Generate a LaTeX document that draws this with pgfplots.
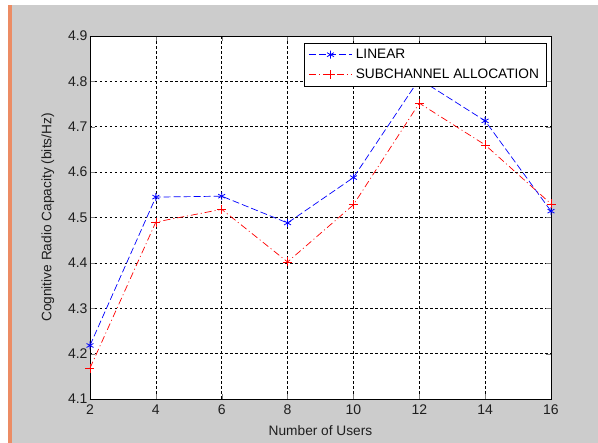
\documentclass[border=0pt]{standalone}
\usepackage{pgfplots}
\pgfplotsset{compat=1.18}
\usepackage{fontspec}
\setmainfont{Liberation Sans}
\definecolor{figbg}{RGB}{204,204,204}
\definecolor{strip}{RGB}{236,140,100}
\definecolor{txt}{RGB}{30,30,30}
\begin{document}
\begin{tikzpicture}[x=1pt,y=1pt]
\fill[white] (0,0) rectangle (598,443);
\fill[figbg] (8,0) rectangle (598,438);
\fill[strip] (8,0) rectangle (12,438);
\begin{axis}[
  at={(90pt,44pt)}, anchor=south west,
  scale only axis, width=461pt, height=363pt,
  xmin=2, xmax=16, ymin=4.1, ymax=4.9,
  xtick={2,4,...,16},
  ytick={4.1,4.2,4.3,4.4,4.5,4.6,4.7,4.8,4.9},
  yticklabel style={/pgf/number format/fixed,/pgf/number format/precision=1,/pgf/number format/fixed zerofill, xshift=1pt},
  /pgf/number format/assume math mode=true,
  tick label style={font=\fontsize{14}{16}\selectfont, text=txt},
  label style={font=\fontsize{13.7}{15}\selectfont, text=txt},
  xlabel={Number of Users},
  ylabel={Cognitive Radio Capacity (bits/Hz)},
  xlabel style={yshift=-4pt},
  ylabel style={yshift=7pt},
  xticklabel style={yshift=-2pt},
  tick align=inside, major tick length=5pt,
  xtick pos=both, ytick pos=both,
  grid=major,
  major grid style={black, line width=0.5pt, dash pattern=on 2.5pt off 2.5pt},
  axis line style={black, line width=0.7pt},
  axis background/.style={fill=white},
  legend style={at={(0.991,0.981)}, anchor=north east, draw=black, line width=0.6pt,
    font=\fontsize{13.7}{15}\selectfont, fill=white,
    row sep=5pt, inner xsep=4pt, inner ysep=4pt,
    nodes={inner xsep=3.5pt}},
  legend cell align=left,
  legend image code/.code={\draw[mark repeat=2,mark phase=2,#1] plot coordinates {(0pt,0pt) (21.5pt,0pt) (43pt,0pt)};},
]
\addplot[blue, line width=0.7pt, dash pattern=on 7pt off 3pt, mark=asterisk, mark size=4pt, mark options={solid, blue, line width=0.8pt}]
 coordinates {(2,4.218) (4,4.545) (6,4.547) (8,4.488) (10,4.588) (12,4.805) (14,4.713) (16,4.514)};
\addlegendentry{LINEAR}
\addplot[red, line width=0.7pt, dash pattern=on 7pt off 3pt on 1pt off 3pt, mark=+, mark size=4.5pt, mark options={solid, red, line width=0.7pt}]
 coordinates {(2,4.168) (4,4.490) (6,4.518) (8,4.402) (10,4.528) (12,4.752) (14,4.660) (16,4.530)};
\addlegendentry{SUBCHANNEL ALLOCATION}
\end{axis}
\end{tikzpicture}
\end{document}
